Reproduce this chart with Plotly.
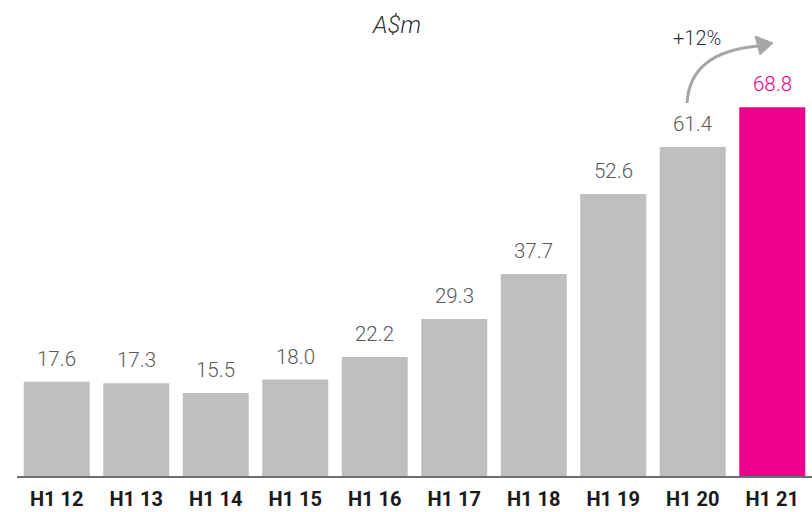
import plotly.graph_objects as go

periods = ["H1 12", "H1 13", "H1 14", "H1 15", "H1 16", "H1 17", "H1 18", "H1 19", "H1 20", "H1 21"]
values = [17.6, 17.3, 15.5, 18.0, 22.2, 29.3, 37.7, 52.6, 61.4, 68.8]
unit_label = "A$m"
growth_label = "+12%"

GREY = "#BFBFBF"
PINK = "#EC008C"
colors = [GREY] * (len(values) - 1) + [PINK]
label_colors = ["#595959"] * (len(values) - 1) + [PINK]

W, H = 812, 512
ML, MR, MT, MB = 17, 0, 0, 36
PW, PH = W - ML - MR, H - MT - MB

def px(x):
    return (x - ML) / PW

def py(y):
    return (H - MB - y) / PH

fig = go.Figure()
fig.add_trace(go.Bar(
    x=list(range(len(periods))), y=values,
    marker=dict(color=colors, line=dict(width=0)),
    width=0.83, hoverinfo="skip",
))

for i, (v, c) in enumerate(zip(values, label_colors)):
    fig.add_annotation(
        x=i, y=v, text=f"{v:.1f}", showarrow=False, yanchor="middle", yshift=23,
        font=dict(family="Roboto Light, Roboto, sans-serif", size=20.5, color=c),
    )

fig.add_annotation(
    xref="paper", yref="paper", x=px(396), y=py(25), text=f"<i>{unit_label}</i>",
    showarrow=False, xanchor="center", yanchor="middle",
    font=dict(family="Roboto Light, Roboto, sans-serif", size=24, color="#333333"),
)
fig.add_annotation(
    xref="paper", yref="paper", x=px(697), y=py(38), text=growth_label,
    showarrow=False, xanchor="center", yanchor="middle",
    font=dict(family="Roboto Light, Roboto, sans-serif", size=20, color="#333333"),
)

# curved arrow
p0 = (687, 103); c1 = (690, 52); p1 = (758, 46)
fig.add_shape(
    type="path", xref="paper", yref="paper",
    path=f"M {px(p0[0])},{py(p0[1])} Q {px(c1[0])},{py(c1[1])} {px(p1[0])},{py(p1[1])}",
    line=dict(color="#A6A6A6", width=3),
)
tri = [(755, 36), (760, 55), (773, 43)]
fig.add_shape(
    type="path", xref="paper", yref="paper",
    path="M " + " L ".join(f"{px(a)},{py(b)}" for a, b in tri) + " Z",
    line=dict(color="#A6A6A6", width=1), fillcolor="#A6A6A6",
)

fig.update_layout(
    width=W, height=H, margin=dict(l=ML, r=MR, t=MT, b=MB),
    paper_bgcolor="white", plot_bgcolor="white", showlegend=False, bargap=0.17,
    xaxis=dict(
        tickmode="array", tickvals=list(range(len(periods))), ticktext=[f"<b>{p}</b>" for p in periods],
        range=[-0.5, len(periods) - 0.5], showgrid=False, zeroline=False,
        showline=True, linecolor="#6F6F6F", linewidth=1.5, ticks="",
        ticklabelstandoff=4, automargin=False,
        tickfont=dict(family="Roboto, sans-serif", size=20, color="#1A1A1A"),
    ),
    yaxis=dict(range=[0, PH / 5.36], visible=False, showgrid=False, zeroline=False),
)

fig.write_html("out.html")
